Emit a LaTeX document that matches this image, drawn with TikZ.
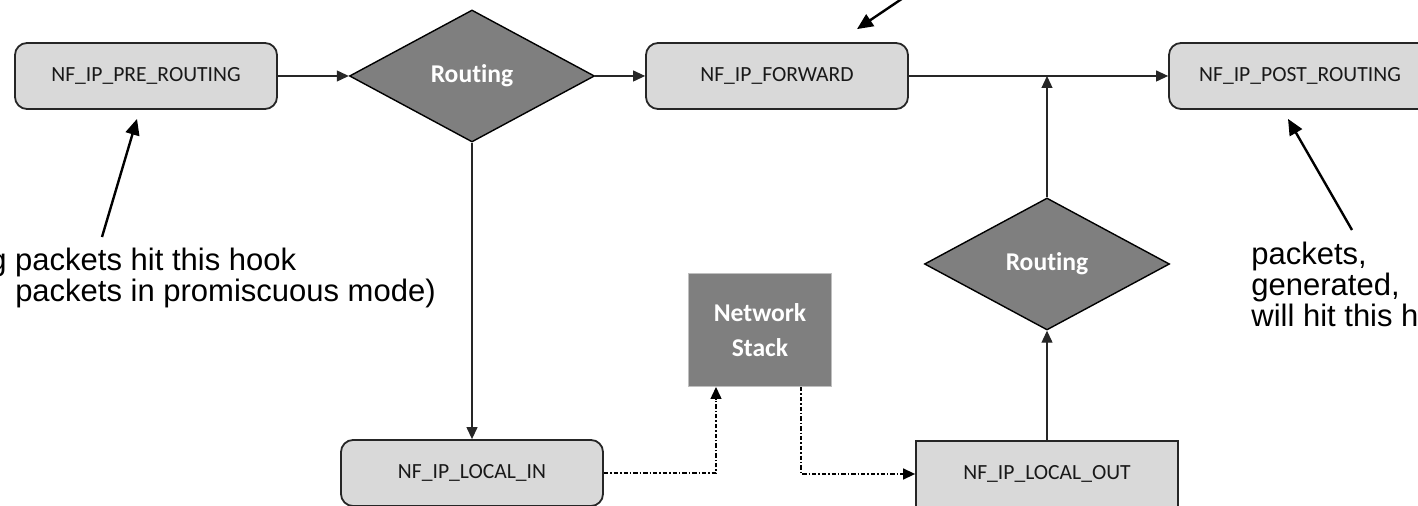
\documentclass[tikz,border=0pt]{standalone}
\usepackage{fontspec}
\setmainfont{Liberation Sans}
\newfontfamily\calib{Carlito}[Ligatures=NoCommon]
\usetikzlibrary{arrows.meta,shapes.geometric,calc}

\definecolor{hookgray}{HTML}{D9D9D9}
\definecolor{routegray}{HTML}{7F7F7F}

\begin{document}
\begin{tikzpicture}[x=0.5pt,y=-0.5pt]
\tikzstyle{every node}+=[inner sep=0pt]
\tikzstyle{hookbox}=[draw=black!85,line width=0.9pt,fill=hookgray,rounded corners=6pt,minimum width=131pt,minimum height=33pt,font=\calib\fontsize{10.8}{13}\selectfont,text=black!90]
\tikzstyle{sqhook}=[hookbox,sharp corners]
\tikzstyle{decide}=[diamond,draw=black,line width=0.7pt,fill=routegray,minimum width=122.5pt,minimum height=66pt,font=\calib\bfseries\fontsize{12.8}{17.5}\selectfont,text=white]
\tikzstyle{stackbox}=[draw=black!25,line width=0.5pt,fill=routegray,minimum width=71.5pt,minimum height=56.5pt,align=center,font=\calib\bfseries\fontsize{12.8}{17.5}\selectfont,text=white]
\tikzstyle{flow}=[draw=black!85,line width=0.6pt,-{Triangle[length=6pt,width=5.5pt]}]
\tikzstyle{dotflow}=[flow,draw=black,line width=0.7pt,dash pattern=on 2.2pt off 1pt on 0.7pt off 1pt]
\tikzstyle{note}=[font=\fontsize{15.5}{15.5}\selectfont,align=left,anchor=north west]
\tikzstyle{pointer}=[line width=1.2pt,-{Triangle[length=8pt,width=7pt]}]

\clip (0,0) rectangle (1418,506);

% hooks and routing decisions
\node[hookbox] (pre) at (146,76) {NF\_IP\_PRE\_ROUTING};
\node[decide] (route1) at (472,76) {Routing};
\node[hookbox] (fwd) at (777,76) {NF\_IP\_FORWARD};
\node[hookbox] (post) at (1300,76) {NF\_IP\_POST\_ROUTING};
\node[decide] (route2) at (1047,264) {Routing};
\node[stackbox] (stack) at (760,330) {Network\\Stack};
\node[hookbox] (locin) at (472,473) {NF\_IP\_LOCAL\_IN};
\node[sqhook] (locout) at (1047,474) {NF\_IP\_LOCAL\_OUT};

% packet flow
\draw[flow] (pre) -- (route1);
\draw[flow] (route1) -- (fwd);
\draw[flow] (fwd) -- (post);
\draw[flow] (route1) -- (locin);
\draw[flow] (locout) -- (route2);
\draw[flow] (route2.north) -- (route2.north |- post.west);
\draw[dotflow] (locin.east) -| ($(stack.south)+(-44,0)$);
\draw[dotflow] ($(stack.south)+(41,0)$) |- (locout.west);

% notes
\coordinate (pretail) at (102,237);
\coordinate (posttail) at (1352,230);
\coordinate (fwdtail) at (915,-10);
\draw[pointer] (pretail) -- ($(pre.south)+(-9,9)$);
\draw[pointer] (posttail) -- ($(post.south)+(-12,9)$);
\draw[pointer] (fwdtail) -- ($(fwd.north)+(80,-13)$);
\node[note] (innote) at (-11,248) {g packets hit this hook\\\hphantom{g }packets in promiscuous mode)};
\node[note] (outnote) at (1251,242) {packets,\\generated,\\will hit this h};
\end{tikzpicture}
\end{document}
